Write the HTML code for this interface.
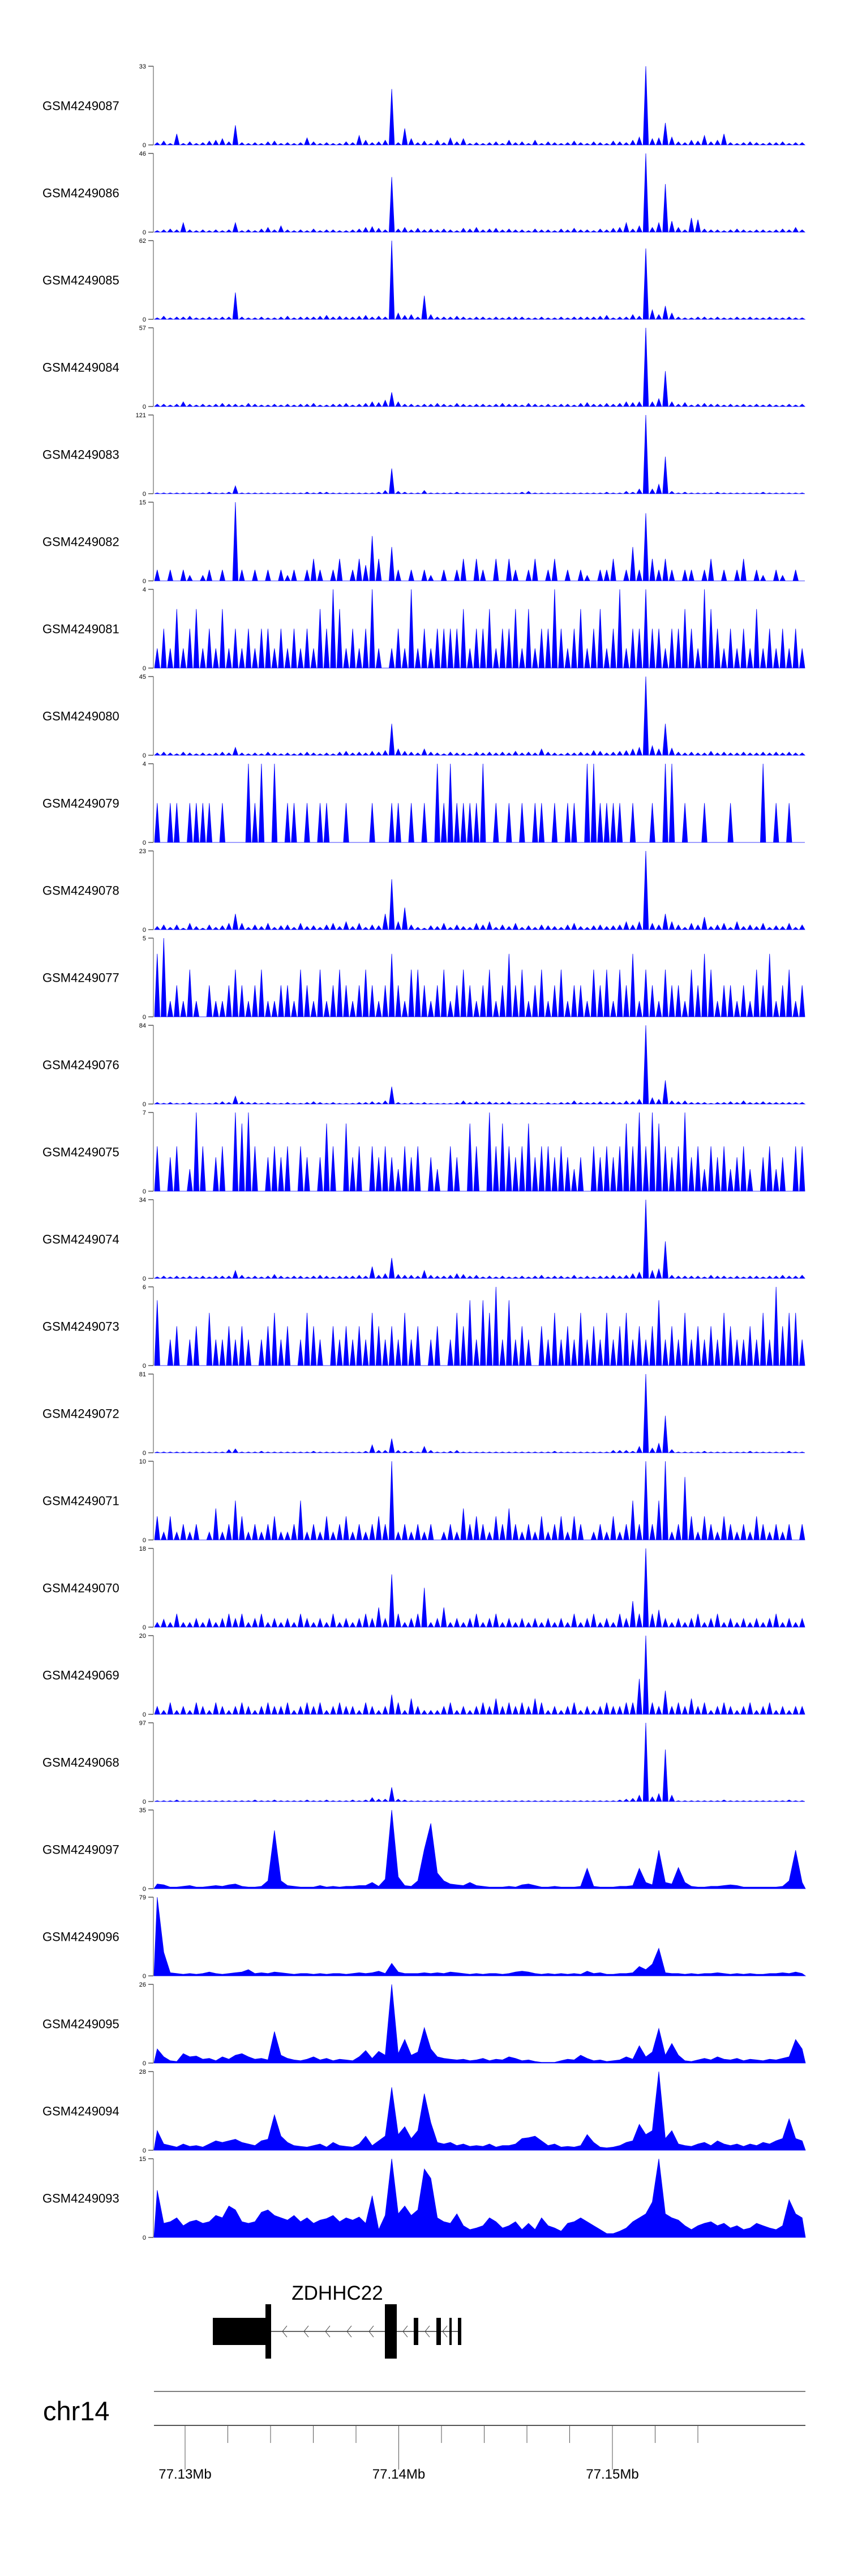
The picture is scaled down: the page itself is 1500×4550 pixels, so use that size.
<!DOCTYPE html>
<html><head><meta charset="utf-8"><style>
html,body{margin:0;padding:0;background:#fff;width:1500px;height:4550px;overflow:hidden}
svg{display:block}
text{font-family:"Liberation Sans",sans-serif}
</style></head><body>
<svg id="chart" width="1500" height="4550" xmlns="http://www.w3.org/2000/svg">
<g id="tracks"></g>
<g id="gene">
  <text x="596" y="4062" font-size="35" text-anchor="middle">ZDHHC22</text>
  <line x1="479" y1="4118" x2="815" y2="4118" stroke="#333" stroke-width="1.5"/>
  <g fill="none" stroke="#444" stroke-width="1">
    <polyline points="507,4108 499,4118 507,4128"/><polyline points="545,4108 537,4118 545,4128"/>
    <polyline points="583,4108 575,4118 583,4128"/><polyline points="621,4108 613,4118 621,4128"/>
    <polyline points="660,4108 652,4118 660,4128"/><polyline points="720,4108 712,4118 720,4128"/>
    <polyline points="759,4108 751,4118 759,4128"/><polyline points="790,4108 782,4118 790,4128"/>
  </g>
  <rect x="376" y="4094" width="103" height="48" fill="#000"/>
  <rect x="469" y="4070" width="10" height="96" fill="#000"/>
  <rect x="680" y="4070" width="21" height="96" fill="#000"/>
  <rect x="731" y="4094" width="8" height="48" fill="#000"/>
  <rect x="771" y="4094" width="8" height="48" fill="#000"/>
  <rect x="794" y="4094" width="4" height="48" fill="#000"/>
  <rect x="809" y="4094" width="6" height="48" fill="#000"/>
</g>
<g id="genome-axis">
  <text x="76" y="4275" font-size="47">chr14</text>
  <line x1="272" y1="4224" x2="1423" y2="4224" stroke="#555" stroke-width="1.5"/>
  <line x1="272" y1="4284" x2="1423" y2="4284" stroke="#555" stroke-width="2"/>
  <g id="gticks"></g>
</g>
</svg>
<script>
const trackNames = ["GSM4249087","GSM4249086","GSM4249085","GSM4249084","GSM4249083","GSM4249082","GSM4249081","GSM4249080","GSM4249079","GSM4249078","GSM4249077","GSM4249076","GSM4249075","GSM4249074","GSM4249073","GSM4249072","GSM4249071","GSM4249070","GSM4249069","GSM4249068","GSM4249097","GSM4249096","GSM4249095","GSM4249094","GSM4249093"];
const trackMax = [33,46,62,57,121,15,4,45,4,23,5,84,7,34,6,81,10,18,20,97,35,79,26,28,15];
const smoothTracks = [20,21,22,23,24];
const axisTickLabels = ["77.13Mb","77.14Mb","77.15Mb"];
const axisTickMb = [77.13,77.14,77.15];
const minorTickKb = [77130,77132,77134,77136,77138,77140,77142,77144,77146,77148,77150,77152,77154];
// signal per bin (100 bins across region), as % of track max
const s0 = [3,5,2,14,2,4,2,3,5,6, 8,4,25,3,2,3,2,4,5,2, 3,2,3,9,4,2,3,2,2,4, 3,12,6,3,4,6,71,3,21,8, 3,5,2,6,3,9,4,8,2,3, 2,3,4,2,6,3,4,2,6,2, 4,3,2,3,5,3,2,4,3,2, 5,4,3,6,10,100,8,9,28,10, 4,3,6,5,12,4,6,14,3,2, 3,4,3,2,3,3,4,2,3,3];
const s1 = [2,3,4,3,12,3,2,3,2,3, 2,3,12,2,3,2,4,6,3,8, 3,2,3,2,4,2,3,3,2,2, 3,4,6,7,5,3,70,4,6,3, 5,3,4,3,4,3,2,5,4,6, 3,4,5,3,4,3,3,2,4,3, 3,2,4,3,5,3,3,2,4,3, 5,6,12,4,8,100,6,12,61,14, 6,3,18,16,4,3,3,2,3,4, 3,2,3,3,2,3,4,3,6,3];
const s2 = [2,4,2,3,3,4,2,2,3,2, 3,3,34,3,2,2,3,2,2,3, 4,2,3,3,3,4,5,3,4,3, 3,4,5,3,4,3,100,8,5,6, 3,30,6,3,3,3,4,3,2,3, 3,2,3,2,3,3,3,2,2,3, 2,2,3,2,3,3,3,3,4,5, 2,3,3,6,4,90,12,6,17,8, 3,2,2,3,3,2,3,2,2,3, 2,3,2,2,3,2,2,3,2,2];
const s3 = [3,3,2,3,6,3,2,3,2,3, 4,3,3,2,4,3,2,2,3,2, 3,2,3,3,4,2,2,3,3,4, 2,3,4,6,5,8,18,6,3,3, 2,3,3,4,3,2,4,3,2,3, 3,2,3,4,3,3,2,4,3,2, 3,2,3,3,2,4,5,3,3,4, 3,4,6,5,6,100,6,10,45,6, 3,5,2,3,4,3,3,2,3,2, 3,2,3,2,3,2,2,3,2,3];
const s4 = [1,1,1,1,1,1,1,1,2,1, 1,2,10,1,1,1,1,1,1,1, 1,1,1,2,1,2,2,1,1,1, 1,1,1,1,2,4,32,3,2,1, 1,4,1,1,1,1,2,1,1,1, 1,1,1,1,1,1,2,3,1,1, 1,1,1,1,1,1,1,1,1,2, 1,1,3,2,6,100,6,12,47,3, 1,2,1,1,1,1,2,1,1,1, 1,1,1,2,1,1,1,1,1,1];
const s5 = [14,0,14,0,14,7,0,7,14,0, 14,0,100,14,0,14,0,14,0,14, 7,14,0,14,28,14,0,14,28,0, 14,28,20,57,28,0,43,14,0,14, 0,14,7,0,14,0,14,28,0,28, 14,0,28,0,28,14,0,14,28,0, 14,28,0,14,0,14,7,0,14,14, 28,0,14,43,14,86,28,14,28,14, 0,14,14,0,14,28,0,14,0,14, 28,0,14,7,0,14,7,0,14,0];
const s6 = [25,50,25,75,25,50,75,25,50,25, 75,25,50,25,50,25,50,50,25,50, 25,50,25,50,25,75,50,100,75,25, 50,25,50,100,25,0,25,50,25,100, 25,50,25,50,50,50,50,75,25,50, 50,75,25,50,50,75,25,75,25,50, 50,100,50,25,50,75,25,50,75,25, 50,100,25,50,50,100,50,50,25,50, 50,75,50,25,100,75,50,25,50,25, 50,25,75,25,50,25,50,25,50,25];
const s7 = [3,4,3,2,4,3,2,3,2,3, 4,3,10,3,2,3,2,4,3,2, 3,2,3,4,3,2,3,2,4,5, 3,4,3,5,4,6,40,8,5,4, 3,8,4,3,2,4,3,3,2,4, 3,4,3,4,3,5,3,4,3,8, 4,3,2,3,3,4,3,6,5,3, 4,5,6,8,10,100,12,8,40,9, 4,3,4,3,3,5,3,4,3,3, 4,3,3,4,3,4,3,4,3,3];
const s8 = [50,0,50,50,0,50,50,50,50,0, 50,0,0,0,100,50,100,0,100,0, 50,50,0,50,0,50,50,0,0,50, 0,0,0,50,0,0,50,50,0,50, 0,50,0,100,50,100,50,50,50,50, 100,0,50,0,50,0,50,0,50,50, 0,50,0,50,50,0,100,100,50,50, 50,50,0,50,0,0,50,0,100,100, 0,50,0,0,50,0,0,0,50,0, 0,0,0,100,0,50,0,50,0,0];
const s9 = [4,6,3,6,2,8,4,2,6,3, 5,8,20,8,3,6,4,8,3,5, 6,3,8,4,5,3,6,8,4,10, 4,8,3,6,5,20,64,10,28,6, 3,2,5,4,8,3,6,4,3,8, 6,10,3,6,4,8,3,5,3,6, 5,4,3,6,8,4,3,5,6,4, 5,6,10,6,10,100,8,6,20,10, 6,3,8,6,16,4,6,8,3,10, 4,6,4,8,3,5,4,8,3,6];
const s10 = [80,100,20,40,20,60,20,0,40,20, 20,40,60,40,20,40,60,20,20,40, 40,20,60,40,20,60,20,40,60,40, 20,40,60,40,20,40,80,40,20,60, 60,40,20,40,60,20,40,60,40,20, 40,60,20,40,80,40,60,20,40,60, 20,40,60,20,40,40,20,60,40,60, 20,60,40,80,20,60,40,20,60,40, 40,20,60,40,80,60,20,40,40,20, 40,20,60,40,80,20,40,60,20,40];
const s11 = [2,1,2,1,1,2,1,1,1,2, 3,2,10,3,2,2,1,2,1,1, 2,1,1,2,3,2,1,2,1,1, 1,2,2,3,2,4,22,2,1,2, 1,2,1,1,1,1,2,4,2,3, 2,3,2,2,3,1,2,2,2,1, 2,1,2,2,4,2,2,2,3,2, 3,2,4,3,6,100,8,6,30,4, 3,4,2,2,2,1,2,2,3,2, 4,2,2,3,2,2,2,2,2,2];
const s12 = [57,0,43,57,0,28,100,57,0,43, 57,0,100,86,100,57,0,43,57,43, 57,0,57,43,0,43,86,57,0,86, 43,57,0,57,43,57,43,28,57,43, 57,0,43,28,0,57,43,0,86,57, 0,100,57,86,57,43,57,86,43,57, 57,43,57,43,28,43,0,57,43,57, 43,57,86,57,100,57,100,86,57,43, 57,100,43,57,28,57,43,57,28,43, 57,28,0,43,57,28,43,0,57,57];
const s13 = [2,3,2,3,2,3,2,3,2,3, 3,3,10,4,2,3,2,3,5,3, 2,3,3,2,3,4,3,2,3,3, 3,4,3,15,4,6,26,5,4,4, 3,10,4,3,3,4,6,5,3,4, 2,3,2,3,2,2,3,2,3,4, 2,3,3,2,4,2,3,2,3,3, 4,3,4,6,8,100,10,12,47,4, 3,3,3,3,2,4,3,3,2,3, 2,3,3,2,3,3,4,3,3,4];
const s14 = [83,0,33,50,0,33,50,0,67,33, 33,50,33,50,33,0,33,50,67,33, 50,0,33,67,50,33,0,50,33,50, 33,50,33,67,50,33,50,33,67,33, 50,0,33,50,0,33,67,50,83,33, 83,67,100,33,83,33,50,33,0,50, 33,67,33,50,33,67,33,50,33,67, 33,50,67,33,50,33,50,83,33,50, 33,67,33,50,33,50,33,67,50,33, 33,50,33,67,33,100,50,67,67,33];
const s15 = [1,1,1,1,1,1,1,1,1,1, 1,4,5,1,1,1,2,1,1,1, 1,1,1,1,2,1,1,1,1,1, 1,1,2,10,3,3,18,3,2,2, 1,8,3,1,1,2,3,1,1,1, 1,1,1,1,1,1,1,1,1,1, 1,2,1,1,1,1,1,1,1,1, 3,3,3,2,8,100,6,12,47,4, 1,1,1,1,2,1,1,1,1,1, 1,2,1,1,1,1,1,2,1,1];
const s16 = [30,10,30,10,20,10,20,0,10,40, 10,20,50,30,10,20,10,20,30,10, 10,20,50,10,20,10,30,10,20,30, 10,20,10,20,30,20,100,10,20,10, 20,10,20,0,10,20,10,40,20,30, 20,10,30,20,40,20,10,20,10,30, 10,20,30,10,30,20,0,10,20,10, 30,10,20,50,20,100,20,50,100,10, 20,80,30,10,30,20,10,30,20,10, 20,10,30,20,10,20,10,20,0,20];
const s17 = [6,10,6,17,6,6,11,6,11,6, 11,17,11,17,6,11,17,6,11,6, 11,6,17,11,6,11,6,17,6,11, 6,11,17,11,25,11,67,17,6,11, 17,50,6,11,25,6,11,6,11,17, 6,11,17,6,11,6,11,6,11,6, 11,6,11,6,17,6,11,17,6,11, 6,17,11,33,17,100,17,22,11,6, 11,6,11,17,6,11,17,6,11,6, 11,6,11,6,11,17,6,11,6,11];
const s18 = [10,5,15,5,10,5,15,10,5,15, 10,5,10,15,10,5,10,15,10,10, 15,5,10,15,10,15,5,10,15,10, 10,5,15,10,5,10,25,15,5,20, 10,5,5,5,10,15,5,10,5,10, 15,10,20,10,15,10,15,10,20,15, 5,10,5,10,15,5,10,5,10,15, 10,10,15,15,45,100,15,10,30,10, 15,10,20,10,15,5,10,15,10,5, 10,15,5,10,15,5,10,5,10,10];
const s19 = [1,1,1,2,1,1,1,1,1,1, 1,1,1,1,1,2,1,1,2,1, 1,1,1,2,1,1,2,1,1,1, 2,1,2,5,3,3,18,3,2,1, 1,1,1,1,1,1,1,1,1,1, 1,1,1,1,1,1,1,1,1,1, 1,1,1,1,1,1,1,1,1,1, 1,2,3,4,8,100,6,10,66,8, 1,1,1,1,1,1,1,2,1,1, 1,1,1,1,1,1,1,2,1,1];
const s20 = [6,5,2,2,3,4,2,2,3,4, 3,5,6,3,2,2,3,10,74,10, 4,3,2,2,2,4,2,3,2,3, 3,4,4,8,3,12,100,15,4,3, 10,50,83,20,10,6,5,4,8,4, 3,2,2,2,3,2,5,6,4,2, 2,3,2,2,2,3,26,3,2,2, 2,3,3,4,26,8,5,49,8,6, 27,8,3,2,2,3,3,4,5,4, 2,2,2,2,2,2,3,10,49,8];
const s21 = [100,30,4,3,2,3,2,3,5,3, 2,3,4,5,8,3,4,3,5,4, 3,2,3,3,2,3,2,3,3,2, 3,4,3,4,6,3,16,5,3,3, 3,4,3,4,3,5,4,3,2,3, 2,3,3,2,3,5,6,5,3,2, 3,2,3,2,3,2,6,3,4,2, 2,3,3,4,12,8,15,35,4,3, 3,2,3,2,3,3,4,3,2,3, 2,3,2,2,3,3,4,3,5,3];
const s22 = [18,8,3,2,12,8,9,5,6,3, 8,5,10,12,8,5,6,4,40,10, 6,4,3,5,8,4,6,3,5,4, 3,8,16,6,15,10,100,12,30,10, 14,45,18,8,6,5,4,5,3,4, 6,3,5,4,8,6,3,4,2,1, 1,1,3,5,4,10,6,3,4,2, 3,4,8,5,22,8,14,44,10,25, 10,3,2,4,6,4,8,5,4,6, 3,5,4,3,5,4,6,8,30,18];
const s23 = [25,8,6,4,8,5,6,4,8,12, 10,12,14,10,8,6,12,14,45,18, 10,6,5,4,6,8,4,10,6,5, 4,8,18,6,12,18,80,20,30,15, 25,72,35,10,8,10,6,8,5,6, 5,8,4,6,6,8,15,16,18,12, 6,8,4,5,4,6,20,10,4,3, 4,6,10,12,33,20,25,100,15,25, 8,6,5,8,10,6,12,8,6,8, 5,8,6,10,8,12,15,40,15,12];
const s24 = [60,18,20,25,15,20,22,18,20,28, 25,40,35,20,18,20,32,35,28,25, 22,28,20,25,18,22,24,28,20,25, 22,26,18,53,10,28,100,30,40,28, 35,87,75,25,20,18,30,15,10,12, 15,25,20,12,15,20,10,18,10,25, 15,12,8,18,20,25,20,15,10,5, 5,8,12,20,25,30,45,100,30,25, 22,15,10,15,18,20,15,18,12,15, 10,12,18,15,12,10,15,48,30,25];
const signals = [s0,s1,s2,s3,s4,s5,s6,s7,s8,s9,s10,s11,s12,s13,s14,s15,s16,s17,s18,s19,s20,s21,s22,s23,s24];

const NS = "http://www.w3.org/2000/svg";
const X0 = 272, X1 = 1423, TOP0 = 117, PITCH = 154, H = 139;
function el(tag, attrs, parent){const e=document.createElementNS(NS,tag);for(const k in attrs)e.setAttribute(k,attrs[k]);parent.appendChild(e);return e;}
function xBin(i,n){return X0+(i+0.5)*(X1-X0)/n;}
function xEdge(i,n){return X0+i*(X1-X0)/n;}
function yScale(pct,base){return base-pct/100*H;}
function xGenome(kb){return 327+(kb-77130)*37.75;}

const tg=document.getElementById('tracks');
signals.forEach((vals,t)=>{
  const top=TOP0+t*PITCH, base=top+H, n=vals.length;
  const g=el('g',{},tg);
  
  
  const lab=el('text',{x:75,y:(top+base)/2+8,'font-size':22},g);
  lab.textContent=trackNames[t];
  
  
  const ax=el('line',{x1:271,y1:top,x2:271,y2:base,stroke:'#888','stroke-width':1.5},g);
  
  
  [[top,trackMax[t]],[base,0]].forEach(([y,v])=>{
    const tk=el('line',{x1:262,y1:y,x2:271,y2:y,stroke:'#555','stroke-width':1.5},g);
    
    
    const tl=el('text',{x:258,y:y+4,'font-size':11,'text-anchor':'end'},g);
    tl.textContent=v;
    
    
  });
  let pts=[];
  if(smoothTracks.includes(t)){
    pts.push([X0,base]);
    vals.forEach((v,i)=>pts.push([xBin(i,n),yScale(v,base)]));
    pts.push([X1,base]);
  } else {
    vals.forEach((v,i)=>{pts.push([xEdge(i,n)+1,base]);pts.push([xBin(i,n),yScale(v,base)]);pts.push([xEdge(i+1,n)-1,base]);});
  }
  const p=el('polygon',{points:pts.map(q=>q[0].toFixed(1)+','+q[1].toFixed(1)).join(' '),fill:'#0000FF',stroke:'#0000FF','stroke-width':0.8},g);
  
  
});

const gt=document.getElementById('gticks');
minorTickKb.forEach(kb=>{
  const l=el('line',{x1:xGenome(kb),y1:4284,x2:xGenome(kb),y2:4315,stroke:'#555','stroke-width':1},gt);
  
  
});
axisTickMb.forEach((mb,i)=>{
  const x=xGenome(mb*1000);
  const l=el('line',{x1:x,y1:4284,x2:x,y2:4362,stroke:'#555','stroke-width':1},gt);
  
  
  const t=el('text',{x:x,y:4378,'font-size':24,'text-anchor':'middle'},gt);
  t.textContent=axisTickLabels[i];
  
  
});
</script>
</body></html>
